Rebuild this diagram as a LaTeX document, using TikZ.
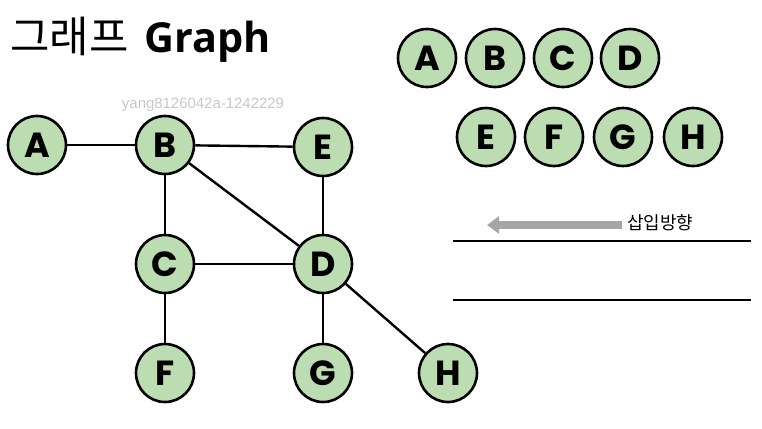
\documentclass[tikz,border=0pt]{standalone}
\usepackage{fontspec}
\setmainfont{Liberation Sans}
\newfontfamily\krfont{Noto Sans CJK KR}
\newfontfamily\titlefont{Open Sans}
\newfontfamily\nodefont{Poppins}
\usetikzlibrary{arrows.meta}
\definecolor{nodegreen}{HTML}{BCDDB2}
\definecolor{arrowgray}{HTML}{A6A6A6}
\definecolor{wmgray}{HTML}{C8C8C8}
\tikzset{
  x=1bp, y=-1bp,
  vtx/.style={circle, draw=black, line width=2.6bp, fill=nodegreen,
    minimum size=58bp, inner sep=0pt,
    font=\nodefont\bfseries\fontsize{35}{35}\selectfont},
  edge/.style={line width=2.4bp, draw=black},
  rail/.style={line width=2.8bp, draw=black},
}
\begin{document}
\begin{tikzpicture}
\useasboundingbox (0,0) rectangle (762,428);
% title
\node[anchor=base west, inner sep=0pt] (title) at (10,52)
  {{\krfont\fontsize{43}{43}\selectfont 그래프}\hspace{16bp}{\titlefont\bfseries\fontsize{41.5}{41.5}\selectfont Graph}};
% watermark
\node[text=wmgray, font=\fontsize{15}{15}\selectfont, inner sep=0pt] (wm) at (203,105) {yang8126042a-1242229};
% graph nodes
\node[vtx] (A) at (37,145) {A};
\node[vtx] (B) at (165,145) {B};
\node[vtx] (E) at (323,147) {E};
\node[vtx] (C) at (165,264) {C};
\node[vtx] (D) at (323,264) {D};
\node[vtx] (F) at (165,373) {F};
\node[vtx] (G) at (323,373) {G};
\node[vtx] (H) at (448,373) {H};
\draw[edge] (A) -- (B);
\draw[edge] (B) -- (E);
\draw[edge] (B) -- (C);
\draw[edge] (B) -- (D);
\draw[edge] (E) -- (D);
\draw[edge] (C) -- (D);
\draw[edge] (C) -- (F);
\draw[edge] (D) -- (G);
\draw[edge] (D) -- (H);
% node list
\node[vtx] (la) at (427,58) {A};
\node[vtx] (lb) at (495,58) {B};
\node[vtx] (lc) at (563,58) {C};
\node[vtx] (ld) at (630,58) {D};
\node[vtx] (le) at (486,137) {E};
\node[vtx] (lf) at (554,137) {F};
\node[vtx] (lg) at (623,137) {G};
\node[vtx] (lh) at (693,137) {H};
% insertion direction
\node[anchor=west, inner sep=0pt, font=\krfont\fontsize{18}{18}\selectfont] (ins) at (627,223) {삽입방향};
\coordinate (arrowend) at (487,225);
\coordinate (arrowstart) at (622,225);
\draw[line width=7.5bp, draw=arrowgray, -{Triangle[length=12bp,width=17bp]}] (arrowstart) -- (arrowend);
% rails
\coordinate (r1a) at (453,241);
\coordinate (r1b) at (751,241);
\coordinate (r2a) at (453,300);
\coordinate (r2b) at (751,300);
\draw[rail] (r1a) -- (r1b);
\draw[rail] (r2a) -- (r2b);
\end{tikzpicture}
\end{document}
